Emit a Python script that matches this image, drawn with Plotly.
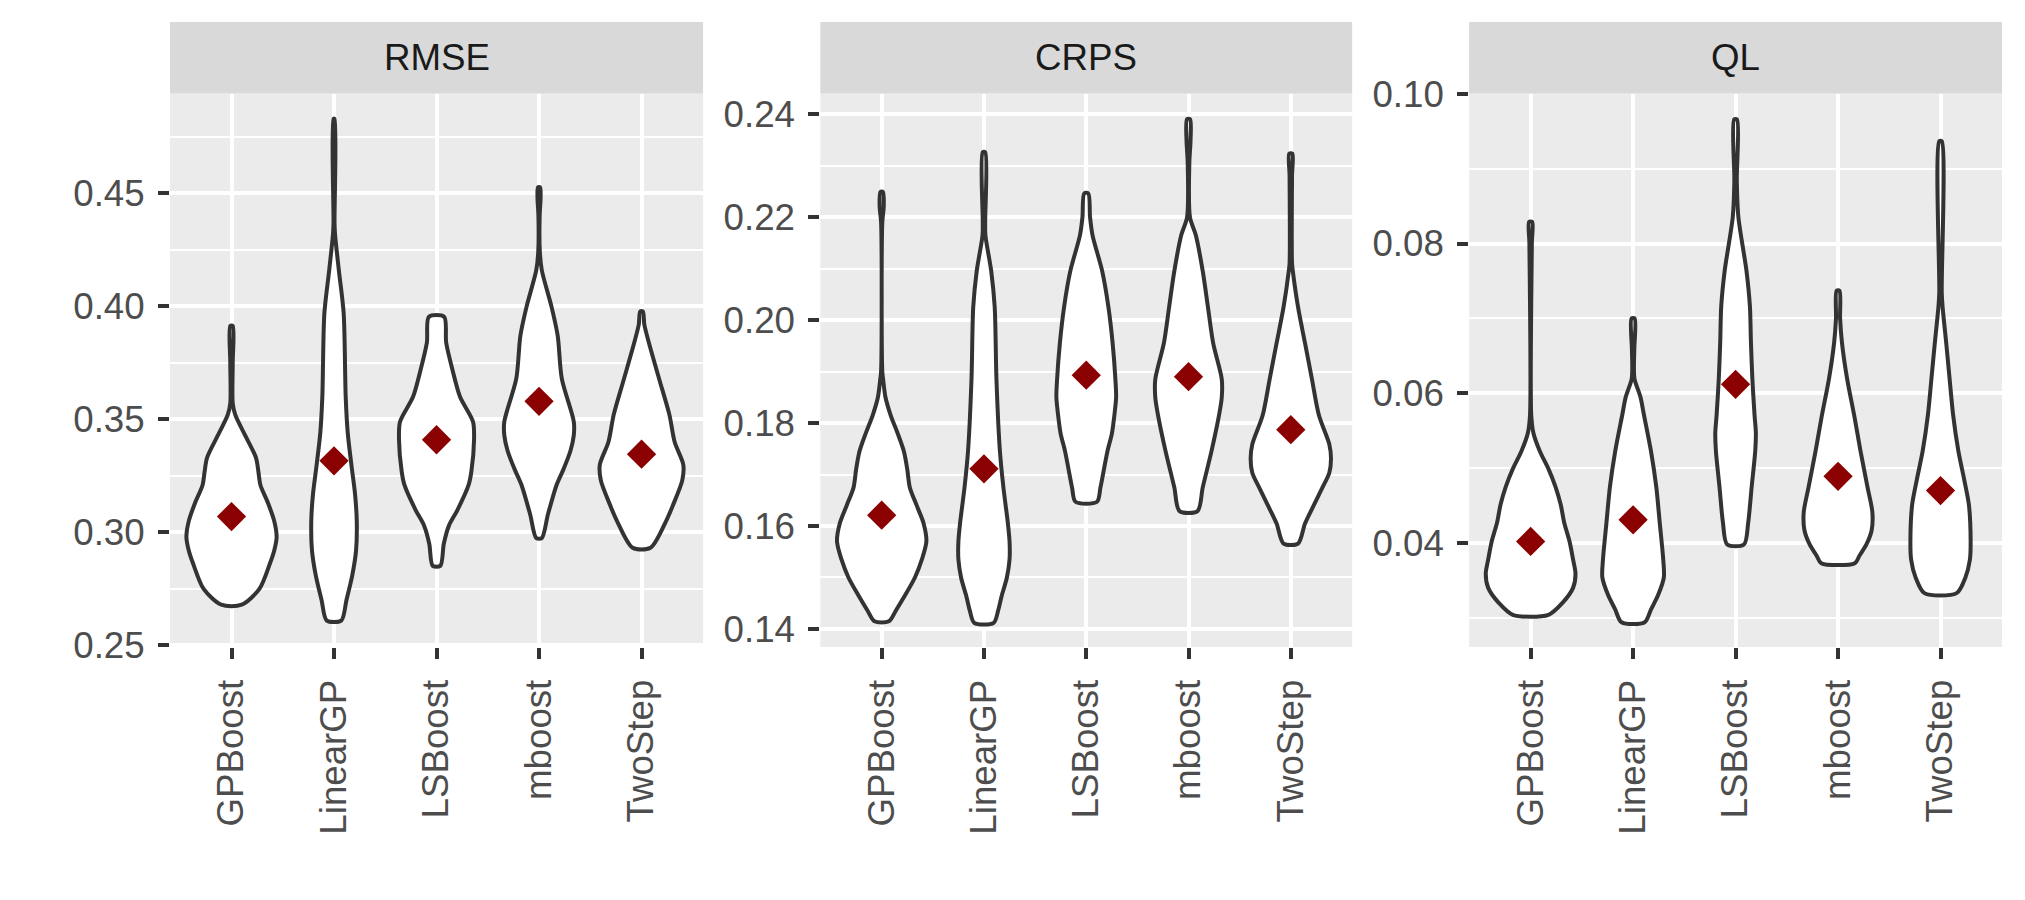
import plotly.graph_objects as go

# ---------------- data ----------------
METHODS = ["GPBoost", "LinearGP", "LSBoost", "mboost", "TwoStep"]
METRICS = ["RMSE", "CRPS", "QL"]

# violin outlines: value levels (bottom -> top) and half-widths (category units)
RMSE_GPBOOST_Y = [0.268, 0.275, 0.286, 0.292, 0.298, 0.305, 0.313, 0.321, 0.327, 0.333, 0.344, 0.352, 0.357, 0.375, 0.3914]
RMSE_GPBOOST_W = [0.10, 0.272, 0.373, 0.417, 0.440, 0.417, 0.356, 0.282, 0.262, 0.239, 0.121, 0.037, 0.012, 0.012, 0.012]
RMSE_LINEARGP_Y = [0.261, 0.270, 0.281, 0.292, 0.305, 0.317, 0.329, 0.344, 0.360, 0.397, 0.416, 0.432, 0.437, 0.483]
RMSE_LINEARGP_W = [0.071, 0.121, 0.178, 0.215, 0.222, 0.205, 0.172, 0.134, 0.114, 0.094, 0.047, 0.010, 0.005, 0.005]
RMSE_LSBOOST_Y = [0.2852, 0.295, 0.303, 0.310, 0.321, 0.327, 0.341, 0.349, 0.360, 0.372, 0.384, 0.3954]
RMSE_LSBOOST_W = [0.037, 0.071, 0.121, 0.205, 0.313, 0.340, 0.366, 0.356, 0.229, 0.155, 0.094, 0.074]
RMSE_MBOOST_Y = [0.2975, 0.308, 0.321, 0.328, 0.336, 0.343, 0.349, 0.368, 0.387, 0.400, 0.416, 0.424, 0.440, 0.448, 0.4527]
RMSE_MBOOST_W = [0.027, 0.087, 0.171, 0.239, 0.306, 0.339, 0.339, 0.222, 0.182, 0.121, 0.027, 0.008, 0.006, 0.015, 0.010]
RMSE_TWOSTEP_Y = [0.2932, 0.305, 0.312, 0.323, 0.330, 0.340, 0.352, 0.368, 0.384, 0.392, 0.3978]
RMSE_TWOSTEP_W = [0.087, 0.239, 0.306, 0.397, 0.407, 0.323, 0.272, 0.171, 0.071, 0.027, 0.013]

CRPS_GPBOOST_Y = [0.1415, 0.1436, 0.1464, 0.150, 0.1535, 0.157, 0.1605, 0.164, 0.1675, 0.171, 0.1745, 0.178, 0.1815, 0.185, 0.1885, 0.190, 0.219, 0.222, 0.2249]
CRPS_GPBOOST_W = [0.071, 0.139, 0.224, 0.325, 0.393, 0.437, 0.410, 0.342, 0.275, 0.250, 0.217, 0.156, 0.088, 0.037, 0.014, 0.006, 0.006, 0.020, 0.012]
CRPS_LINEARGP_Y = [0.1412, 0.1436, 0.1464, 0.150, 0.1535, 0.157, 0.1605, 0.1675, 0.1745, 0.1885, 0.2025, 0.2095, 0.2165, 0.2193, 0.2326]
CRPS_LINEARGP_W = [0.095, 0.139, 0.173, 0.224, 0.250, 0.250, 0.234, 0.190, 0.156, 0.122, 0.105, 0.071, 0.014, 0.012, 0.012]
CRPS_LSBOOST_Y = [0.1647, 0.1675, 0.171, 0.1745, 0.178, 0.1815, 0.185, 0.1885, 0.1955, 0.2025, 0.2095, 0.2165, 0.220, 0.2246]
CRPS_LSBOOST_W = [0.105, 0.139, 0.173, 0.207, 0.251, 0.275, 0.292, 0.285, 0.258, 0.217, 0.156, 0.061, 0.037, 0.020]
CRPS_MBOOST_Y = [0.1629, 0.1675, 0.1745, 0.1815, 0.185, 0.1885, 0.1955, 0.2025, 0.2095, 0.2165, 0.220, 0.2305, 0.235, 0.239]
CRPS_MBOOST_W = [0.088, 0.139, 0.224, 0.298, 0.325, 0.325, 0.241, 0.190, 0.139, 0.071, 0.014, 0.008, 0.020, 0.015]
CRPS_TWOSTEP_Y = [0.1566, 0.1605, 0.164, 0.1675, 0.1703, 0.1731, 0.1759, 0.1815, 0.1885, 0.1955, 0.2025, 0.2095, 0.211, 0.228, 0.2323]
CRPS_TWOSTEP_W = [0.071, 0.139, 0.224, 0.310, 0.376, 0.393, 0.376, 0.275, 0.207, 0.139, 0.071, 0.020, 0.012, 0.012, 0.015]

QL_GPBOOST_Y = [0.0304, 0.032, 0.034, 0.0359, 0.0378, 0.0402, 0.0427, 0.0451, 0.0475, 0.0499, 0.0523, 0.0547, 0.0571, 0.080, 0.0829]
QL_GPBOOST_W = [0.174, 0.311, 0.414, 0.438, 0.414, 0.380, 0.328, 0.294, 0.243, 0.174, 0.089, 0.027, 0.006, 0.012, 0.015]
QL_LINEARGP_Y = [0.0294, 0.0311, 0.033, 0.0354, 0.0378, 0.0427, 0.0475, 0.0523, 0.0571, 0.0595, 0.0619, 0.0634, 0.066, 0.070]
QL_LINEARGP_W = [0.113, 0.174, 0.243, 0.300, 0.294, 0.260, 0.226, 0.174, 0.106, 0.072, 0.014, 0.008, 0.012, 0.015]
QL_LSBOOST_Y = [0.0398, 0.0427, 0.0475, 0.0523, 0.0547, 0.0571, 0.0619, 0.0668, 0.0716, 0.0764, 0.0836, 0.0884, 0.0966]
QL_LSBOOST_W = [0.082, 0.123, 0.157, 0.192, 0.198, 0.185, 0.164, 0.150, 0.140, 0.106, 0.027, 0.012, 0.014]
QL_MBOOST_Y = [0.0373, 0.0383, 0.0398, 0.0417, 0.0441, 0.0475, 0.0523, 0.0571, 0.0619, 0.0668, 0.070, 0.0737]
QL_MBOOST_W = [0.164, 0.209, 0.277, 0.328, 0.335, 0.287, 0.219, 0.157, 0.089, 0.038, 0.020, 0.014]
QL_TWOSTEP_Y = [0.0333, 0.0354, 0.0378, 0.0402, 0.0451, 0.0484, 0.0523, 0.0571, 0.0619, 0.0668, 0.0716, 0.0735, 0.0937]
QL_TWOSTEP_W = [0.157, 0.243, 0.287, 0.294, 0.277, 0.232, 0.174, 0.123, 0.089, 0.055, 0.020, 0.012, 0.012]

RMSE_MEANS = [0.307, 0.3317, 0.341, 0.358, 0.3346]
CRPS_MEANS = [0.1621, 0.1711, 0.1893, 0.189, 0.1787]
QL_MEANS = [0.0402, 0.0431, 0.0612, 0.0489, 0.0470]

RMSE_TICKS = [0.25, 0.30, 0.35, 0.40, 0.45]
CRPS_TICKS = [0.14, 0.16, 0.18, 0.20, 0.22, 0.24]
QL_TICKS = [0.04, 0.06, 0.08, 0.10]

OUTLINES = {
    "RMSE": [(RMSE_GPBOOST_Y, RMSE_GPBOOST_W), (RMSE_LINEARGP_Y, RMSE_LINEARGP_W), (RMSE_LSBOOST_Y, RMSE_LSBOOST_W),
             (RMSE_MBOOST_Y, RMSE_MBOOST_W), (RMSE_TWOSTEP_Y, RMSE_TWOSTEP_W)],
    "CRPS": [(CRPS_GPBOOST_Y, CRPS_GPBOOST_W), (CRPS_LINEARGP_Y, CRPS_LINEARGP_W), (CRPS_LSBOOST_Y, CRPS_LSBOOST_W),
             (CRPS_MBOOST_Y, CRPS_MBOOST_W), (CRPS_TWOSTEP_Y, CRPS_TWOSTEP_W)],
    "QL": [(QL_GPBOOST_Y, QL_GPBOOST_W), (QL_LINEARGP_Y, QL_LINEARGP_W), (QL_LSBOOST_Y, QL_LSBOOST_W),
           (QL_MBOOST_Y, QL_MBOOST_W), (QL_TWOSTEP_Y, QL_TWOSTEP_W)],
}
MEANS = {"RMSE": RMSE_MEANS, "CRPS": CRPS_MEANS, "QL": QL_MEANS}
TICKS = {"RMSE": RMSE_TICKS, "CRPS": CRPS_TICKS, "QL": QL_TICKS}
YRANGE = {"RMSE": [0.2493, 0.4942], "CRPS": [0.1365, 0.2440], "QL": [0.0261, 0.10006]}

# ---------------- styling ----------------
FONT = "Liberation Sans, Arial, sans-serif"
PANEL_BG = "#EBEBEB"
STRIP_BG = "#D9D9D9"
DARK = "#333333"
X_DOMAINS = [[0.0, 0.29097], [0.35498, 0.64529], [0.70914, 1.0]]
Y_TOP = 0.8856

fig = go.Figure()

for k, metric in enumerate(METRICS):
    ax = "" if k == 0 else str(k + 1)
    for i, (ys, ws) in enumerate(OUTLINES[metric]):
        c = i + 1
        xs = [c + w for w in ws] + [c - w for w in reversed(ws)] + [c + ws[0]]
        yy = list(ys) + list(reversed(ys)) + [ys[0]]
        fig.add_trace(go.Scatter(
            x=xs, y=yy, xaxis="x" + ax, yaxis="y" + ax, mode="lines",
            fill="toself", fillcolor="white",
            line=dict(color=DARK, width=4, shape="spline", smoothing=0.8),
            hoverinfo="skip", showlegend=False))
    fig.add_trace(go.Scatter(
        x=list(range(1, len(METHODS) + 1)), y=MEANS[metric], xaxis="x" + ax, yaxis="y" + ax,
        mode="markers", marker=dict(symbol="diamond", size=22.5, color="#8B0000", line=dict(width=0)),
        showlegend=False))

    ticks = TICKS[metric]
    step = ticks[1] - ticks[0]
    fig.update_layout(**{
        "xaxis" + ax: dict(
            domain=X_DOMAINS[k], anchor="y" + ax, range=[0.4, 5.6], automargin=False,
            tickmode="array", tickvals=list(range(1, len(METHODS) + 1)), ticktext=METHODS,
            tickangle=-90, ticks="outside", ticklen=11, tickwidth=4, tickcolor=DARK,
            ticklabelstandoff=6,
            showgrid=True, gridcolor="white", gridwidth=4, zeroline=False, showline=False,
            tickfont=dict(family=FONT, size=36.7, color="#4D4D4D"), fixedrange=True),
        "yaxis" + ax: dict(
            domain=[0, Y_TOP], anchor="x" + ax, range=YRANGE[metric], automargin=False,
            tickmode="array", tickvals=ticks, ticktext=[f"{t:.2f}" for t in ticks],
            ticks="outside", ticklen=11, tickwidth=4, tickcolor=DARK, ticklabelstandoff=6,
            showgrid=True, gridcolor="white", gridwidth=4, zeroline=False, showline=False,
            minor=dict(tick0=ticks[0] + step / 2, dtick=step, showgrid=True, gridcolor="white",
                       gridwidth=2.2, ticks=""),
            tickfont=dict(family=FONT, size=36.7, color="#4D4D4D"), fixedrange=True),
    })
    # panel background
    fig.add_shape(type="rect", xref=f"x{ax} domain", yref=f"y{ax} domain", x0=0, x1=1, y0=0, y1=1,
                  fillcolor=PANEL_BG, line=dict(width=0), layer="below")
    # strip
    fig.add_shape(type="rect", xref=f"x{ax} domain", yref="paper", x0=0, x1=1, y0=Y_TOP, y1=1.0,
                  fillcolor=STRIP_BG, line=dict(width=0), layer="below")
    fig.add_annotation(text=metric, xref=f"x{ax} domain", yref="paper", x=0.5, y=(Y_TOP + 1) / 2,
                       showarrow=False, xanchor="center", yanchor="middle",
                       font=dict(family=FONT, size=36.7, color="#1A1A1A"))

# the page body adds an 8px margin, so the figure is sized/margined to compensate
fig.update_layout(
    width=2009, height=884,
    margin=dict(l=161.5, r=15, t=14, b=245, autoexpand=False),
    paper_bgcolor="white", plot_bgcolor="rgba(0,0,0,0)",
    showlegend=False, font=dict(family=FONT),
)

fig.write_html("out.html")
